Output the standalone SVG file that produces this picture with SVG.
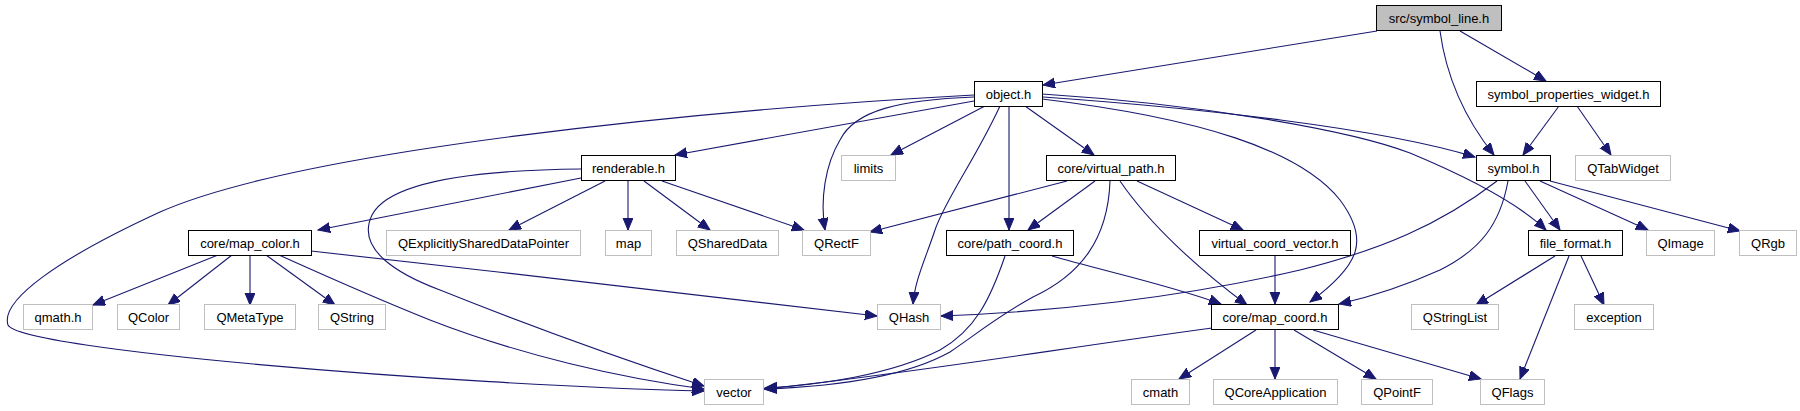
<svg xmlns="http://www.w3.org/2000/svg" width="1800" height="411" viewBox="0 0 1800 411">
<style>
.n rect{fill:#fff;stroke:#000;stroke-width:1}
.n.ext rect{stroke:#bfbfbf}
.n.root rect{fill:#bfbfbf}
.n text{font-family:"Liberation Sans",Arial,sans-serif;font-size:13px;fill:#000;text-anchor:middle}
.e path{fill:none;stroke:#191970;stroke-width:1.1;marker-end:url(#arr)}
</style>
<defs>
<marker id="arr" markerUnits="userSpaceOnUse" markerWidth="14" markerHeight="12" refX="12" refY="5" orient="auto">
<path d="M0,0 L12,5 L0,10 z" fill="#191970" stroke="#191970" stroke-width="1"/>
</marker>
</defs>
<rect width="1800" height="411" fill="#fff"/>
<g id="edges" class="e">
<path d="M1377,31 L1043,85"/>
<path d="M1440,31 C1446,75 1462,115 1494,155"/>
<path d="M1460,31 L1546,81"/>
<path d="M1559,106 L1523,155"/>
<path d="M1577,106 L1611,155"/>
<path d="M974,101 L675,155"/>
<path d="M985,106 L891,155"/>
<path d="M1025,106 L1094,155"/>
<path d="M1009,106 L1009,230"/>
<path d="M1000,106 C975,160 945,200 935,230 C925,260 915,280 913,304"/>
<path d="M974,97 C900,100 855,110 840,140 C825,165 820,200 825,230"/>
<path d="M974,95 C700,110 300,150 160,212 C60,258 0,300 8,325 C20,350 450,385 704,391"/>
<path d="M1043,97 C1200,108 1380,128 1475,157"/>
<path d="M1042,94 C1200,104 1350,130 1410,153 C1470,178 1520,205 1546,230"/>
<path d="M1042,99 C1200,118 1300,150 1340,200 C1370,240 1360,265 1310,302"/>
<path d="M581,178 L318,230"/>
<path d="M605,181 L509,230"/>
<path d="M628,181 L628,230"/>
<path d="M644,181 L710,230"/>
<path d="M662,181 L804,230"/>
<path d="M581,169 C480,170 390,180 372,215 C355,250 400,275 440,290 C540,330 640,365 704,386"/>
<path d="M218,255 L93,305"/>
<path d="M232,255 L168,305"/>
<path d="M250,255 L250,305"/>
<path d="M266,255 L335,305"/>
<path d="M279,255 C330,278 380,300 430,320 C520,355 620,378 704,389"/>
<path d="M311,251 C500,272 700,295 877,316"/>
<path d="M1067,181 L870,232"/>
<path d="M1095,181 L1028,230"/>
<path d="M1137,181 L1243,230"/>
<path d="M1120,181 C1150,225 1200,270 1247,305"/>
<path d="M1110,181 C1108,240 1080,275 1033,297 C1000,315 975,335 950,352 C900,380 820,387 765,389"/>
<path d="M1005,256 C990,300 975,330 940,350 C890,375 820,385 765,388"/>
<path d="M1052,256 C1100,270 1170,285 1221,304"/>
<path d="M1275,256 L1275,304"/>
<path d="M1497,181 C1440,225 1380,250 1300,270 C1180,298 1050,312 941,316"/>
<path d="M1508,181 C1500,225 1480,250 1440,270 C1400,288 1370,297 1339,304"/>
<path d="M1525,181 L1560,230"/>
<path d="M1540,181 L1648,230"/>
<path d="M1550,181 L1740,231"/>
<path d="M1555,256 L1476,305"/>
<path d="M1581,256 L1604,305"/>
<path d="M1569,256 L1520,379"/>
<path d="M1212,328 C1050,350 900,375 764,389"/>
<path d="M1256,330 L1179,379"/>
<path d="M1275,330 L1275,379"/>
<path d="M1294,330 L1376,379"/>
<path d="M1313,330 L1481,379"/>
</g>
<g id="n_root" class="n root"><rect x="1376.5" y="5.5" width="125" height="25"/><text x="1439" y="23">src/symbol_line.h</text></g>
<g id="n_object" class="n"><rect x="974.5" y="81.5" width="68" height="25"/><text x="1008.5" y="99">object.h</text></g>
<g id="n_spw" class="n"><rect x="1476.5" y="81.5" width="184" height="25"/><text x="1568.5" y="99">symbol_properties_widget.h</text></g>
<g id="n_renderable" class="n"><rect x="581.5" y="155.5" width="94" height="25"/><text x="628.5" y="173">renderable.h</text></g>
<g id="n_limits" class="n ext"><rect x="841.5" y="155.5" width="54" height="25"/><text x="868.5" y="173">limits</text></g>
<g id="n_virtual_path" class="n"><rect x="1046.5" y="155.5" width="129" height="25"/><text x="1111" y="173">core/virtual_path.h</text></g>
<g id="n_symbol" class="n"><rect x="1476.5" y="155.5" width="74" height="25"/><text x="1513.5" y="173">symbol.h</text></g>
<g id="n_qtabwidget" class="n ext"><rect x="1575.5" y="155.5" width="95" height="25"/><text x="1623" y="173">QTabWidget</text></g>
<g id="n_map_color" class="n"><rect x="188.5" y="230.5" width="123" height="25"/><text x="250" y="248">core/map_color.h</text></g>
<g id="n_qesdp" class="n ext"><rect x="386.5" y="230.5" width="194" height="25"/><text x="483.5" y="248">QExplicitlySharedDataPointer</text></g>
<g id="n_map" class="n ext"><rect x="605.5" y="230.5" width="46" height="25"/><text x="628.5" y="248">map</text></g>
<g id="n_qshareddata" class="n ext"><rect x="676.5" y="230.5" width="102" height="25"/><text x="727.5" y="248">QSharedData</text></g>
<g id="n_qrectf" class="n ext"><rect x="802.5" y="230.5" width="68" height="25"/><text x="836.5" y="248">QRectF</text></g>
<g id="n_path_coord" class="n"><rect x="946.5" y="230.5" width="127" height="25"/><text x="1010" y="248">core/path_coord.h</text></g>
<g id="n_vcv" class="n"><rect x="1199.5" y="230.5" width="151" height="25"/><text x="1275" y="248">virtual_coord_vector.h</text></g>
<g id="n_file_format" class="n"><rect x="1528.5" y="230.5" width="94" height="25"/><text x="1575.5" y="248">file_format.h</text></g>
<g id="n_qimage" class="n ext"><rect x="1646.5" y="230.5" width="68" height="25"/><text x="1680.5" y="248">QImage</text></g>
<g id="n_qrgb" class="n ext"><rect x="1739.5" y="230.5" width="57" height="25"/><text x="1768" y="248">QRgb</text></g>
<g id="n_qmath" class="n ext"><rect x="23.5" y="304.5" width="69" height="25"/><text x="58" y="322">qmath.h</text></g>
<g id="n_qcolor" class="n ext"><rect x="117.5" y="304.5" width="62" height="25"/><text x="148.5" y="322">QColor</text></g>
<g id="n_qmetatype" class="n ext"><rect x="204.5" y="304.5" width="91" height="25"/><text x="250" y="322">QMetaType</text></g>
<g id="n_qstring" class="n ext"><rect x="318.5" y="304.5" width="67" height="25"/><text x="352" y="322">QString</text></g>
<g id="n_qhash" class="n ext"><rect x="877.5" y="304.5" width="63" height="25"/><text x="909" y="322">QHash</text></g>
<g id="n_map_coord" class="n"><rect x="1211.5" y="304.5" width="127" height="25"/><text x="1275" y="322">core/map_coord.h</text></g>
<g id="n_qstringlist" class="n ext"><rect x="1411.5" y="304.5" width="87" height="25"/><text x="1455" y="322">QStringList</text></g>
<g id="n_exception" class="n ext"><rect x="1574.5" y="304.5" width="79" height="25"/><text x="1614" y="322">exception</text></g>
<g id="n_vector" class="n ext"><rect x="704.5" y="379.5" width="59" height="25"/><text x="734" y="397">vector</text></g>
<g id="n_cmath" class="n ext"><rect x="1131.5" y="379.5" width="58" height="25"/><text x="1160.5" y="397">cmath</text></g>
<g id="n_qcoreapp" class="n ext"><rect x="1213.5" y="379.5" width="124" height="25"/><text x="1275.5" y="397">QCoreApplication</text></g>
<g id="n_qpointf" class="n ext"><rect x="1361.5" y="379.5" width="71" height="25"/><text x="1397" y="397">QPointF</text></g>
<g id="n_qflags" class="n ext"><rect x="1480.5" y="379.5" width="64" height="25"/><text x="1512.5" y="397">QFlags</text></g>
</svg>
